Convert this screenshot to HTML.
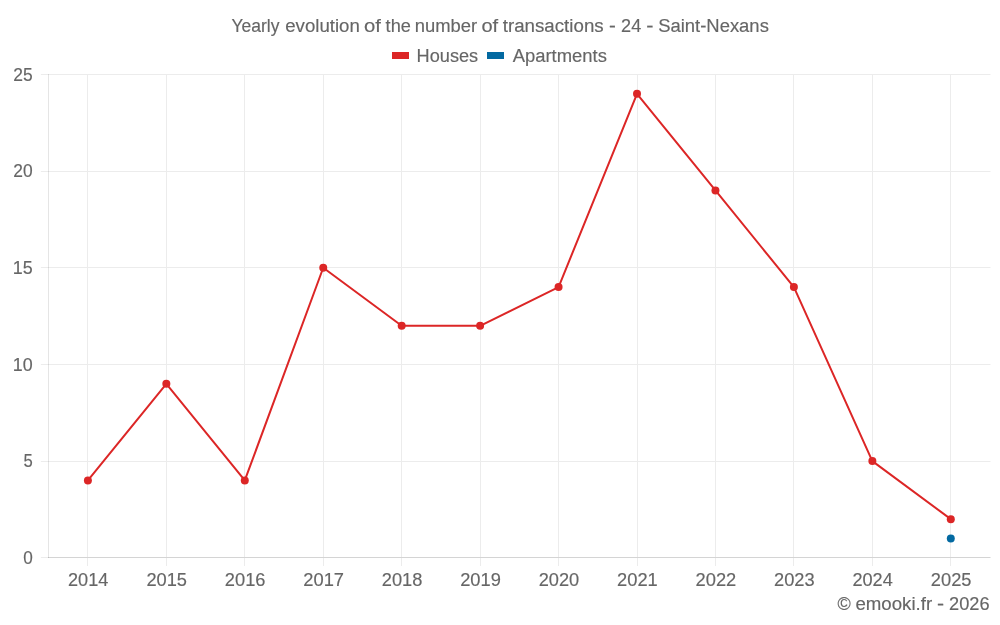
<!DOCTYPE html>
<html lang="en"><head><meta charset="utf-8">
<title>Yearly evolution of the number of transactions - 24 - Saint-Nexans</title>
<style>
html,body{margin:0;padding:0;background:#fff;}
body{width:1000px;height:625px;overflow:hidden;}
svg{display:block;will-change:transform;}
text{font-family:"Liberation Sans",sans-serif;font-size:18.0px;fill:#666;stroke:#666;stroke-width:.15px;}
.g{stroke:#ececec;stroke-width:1;shape-rendering:crispEdges;}
.gr{fill:#ececec;stroke:none;shape-rendering:auto;}.br{fill:#000;fill-opacity:.1;stroke:none;shape-rendering:auto;}
.b{stroke:#000;stroke-opacity:.1;stroke-width:1;shape-rendering:crispEdges;}
</style></head><body>
<svg width="1000" height="625" viewBox="0 0 1000 625">
<rect width="1000" height="625" fill="#fff"/>
<g class="g">
<rect class="gr" x="40.9" y="557" width="949.6" height="1"/>
<rect class="gr" x="40.9" y="461" width="949.6" height="1"/>
<rect class="gr" x="40.9" y="364" width="949.6" height="1"/>
<rect class="gr" x="40.9" y="267" width="949.6" height="1"/>
<rect class="gr" x="40.9" y="171" width="949.6" height="1"/>
<rect class="gr" x="40.9" y="74" width="949.6" height="1"/>
<line x1="87.5" x2="87.5" y1="74.0" y2="566"/>
<line x1="166.5" x2="166.5" y1="74.0" y2="566"/>
<line x1="244.5" x2="244.5" y1="74.0" y2="566"/>
<line x1="323.5" x2="323.5" y1="74.0" y2="566"/>
<line x1="401.5" x2="401.5" y1="74.0" y2="566"/>
<line x1="480.5" x2="480.5" y1="74.0" y2="566"/>
<line x1="558.5" x2="558.5" y1="74.0" y2="566"/>
<line x1="637.5" x2="637.5" y1="74.0" y2="566"/>
<line x1="715.5" x2="715.5" y1="74.0" y2="566"/>
<line x1="793.5" x2="793.5" y1="74.0" y2="566"/>
<line x1="872.5" x2="872.5" y1="74.0" y2="566"/>
<line x1="950.5" x2="950.5" y1="74.0" y2="566"/>
</g>
<g class="b">
<line x1="48.5" x2="48.5" y1="74.0" y2="558.0"/>
<rect class="br" x="48" y="557" width="942.5" height="1"/>
</g>
<text y="32"><tspan x="231.43" textLength="48.01" lengthAdjust="spacingAndGlyphs">Yearly</tspan> <tspan x="285.21" textLength="74.60" lengthAdjust="spacingAndGlyphs">evolution</tspan> <tspan x="364.05" textLength="16.92" lengthAdjust="spacingAndGlyphs">of</tspan> <tspan x="385.62" textLength="25.28" lengthAdjust="spacingAndGlyphs">the</tspan> <tspan x="414.78" textLength="62.43" lengthAdjust="spacingAndGlyphs">number</tspan> <tspan x="481.46" textLength="16.71" lengthAdjust="spacingAndGlyphs">of</tspan> <tspan x="502.72" textLength="100.96" lengthAdjust="spacingAndGlyphs">transactions</tspan> <tspan x="609.09" textLength="6.82" lengthAdjust="spacingAndGlyphs">-</tspan> <tspan x="621.09" textLength="20.14" lengthAdjust="spacingAndGlyphs">24</tspan> <tspan x="646.24" textLength="7.23" lengthAdjust="spacingAndGlyphs">-</tspan> <tspan x="658.16" textLength="110.70" lengthAdjust="spacingAndGlyphs">Saint-Nexans</tspan></text>
<rect x="392" y="52" width="17" height="7" fill="#dc2626"/>
<text y="62"><tspan x="416.61" textLength="61.54" lengthAdjust="spacingAndGlyphs">Houses</tspan></text>
<rect x="487" y="52" width="17" height="7" fill="#0369a1"/>
<text y="62"><tspan x="512.66" textLength="94.20" lengthAdjust="spacingAndGlyphs">Apartments</tspan></text>
<text y="564"><tspan x="23.13" textLength="9.54" lengthAdjust="spacingAndGlyphs">0</tspan></text>
<text y="467"><tspan x="23.43" textLength="9.27" lengthAdjust="spacingAndGlyphs">5</tspan></text>
<text y="371"><tspan x="12.84" textLength="19.86" lengthAdjust="spacingAndGlyphs">10</tspan></text>
<text y="274"><tspan x="12.84" textLength="19.92" lengthAdjust="spacingAndGlyphs">15</tspan></text>
<text y="177"><tspan x="13.32" textLength="19.35" lengthAdjust="spacingAndGlyphs">20</tspan></text>
<text y="81"><tspan x="13.32" textLength="19.41" lengthAdjust="spacingAndGlyphs">25</tspan></text>
<text y="586"><tspan x="67.99" textLength="40.34" lengthAdjust="spacingAndGlyphs">2014</tspan></text>
<text y="586"><tspan x="146.43" textLength="40.58" lengthAdjust="spacingAndGlyphs">2015</tspan></text>
<text y="586"><tspan x="224.87" textLength="40.62" lengthAdjust="spacingAndGlyphs">2016</tspan></text>
<text y="586"><tspan x="303.31" textLength="40.74" lengthAdjust="spacingAndGlyphs">2017</tspan></text>
<text y="586"><tspan x="381.76" textLength="40.61" lengthAdjust="spacingAndGlyphs">2018</tspan></text>
<text y="586"><tspan x="460.21" textLength="40.69" lengthAdjust="spacingAndGlyphs">2019</tspan></text>
<text y="586"><tspan x="538.65" textLength="40.53" lengthAdjust="spacingAndGlyphs">2020</tspan></text>
<text y="586"><tspan x="617.09" textLength="40.71" lengthAdjust="spacingAndGlyphs">2021</tspan></text>
<text y="586"><tspan x="695.54" textLength="40.74" lengthAdjust="spacingAndGlyphs">2022</tspan></text>
<text y="586"><tspan x="773.99" textLength="40.62" lengthAdjust="spacingAndGlyphs">2023</tspan></text>
<text y="586"><tspan x="852.44" textLength="40.34" lengthAdjust="spacingAndGlyphs">2024</tspan></text>
<text y="586"><tspan x="930.88" textLength="40.58" lengthAdjust="spacingAndGlyphs">2025</tspan></text>
<text y="610"><tspan x="837.53" textLength="13.25" lengthAdjust="spacingAndGlyphs">©</tspan> <tspan x="855.41" textLength="76.70" lengthAdjust="spacingAndGlyphs">emooki.fr</tspan> <tspan x="937.05" textLength="7.09" lengthAdjust="spacingAndGlyphs">-</tspan> <tspan x="949.08" textLength="40.52" lengthAdjust="spacingAndGlyphs">2026</tspan></text>
<polyline points="87.90,480.46 166.34,383.78 244.79,480.46 323.24,267.77 401.68,325.78 480.12,325.78 558.57,287.11 637.01,93.76 715.46,190.43 793.90,287.11 872.35,461.12 950.79,519.13" fill="none" stroke="#dc2626" stroke-width="2" stroke-linejoin="round" stroke-linecap="round"/>
<circle cx="87.90" cy="480.46" r="4" fill="#dc2626"/>
<circle cx="166.34" cy="383.78" r="4" fill="#dc2626"/>
<circle cx="244.79" cy="480.46" r="4" fill="#dc2626"/>
<circle cx="323.24" cy="267.77" r="4" fill="#dc2626"/>
<circle cx="401.68" cy="325.78" r="4" fill="#dc2626"/>
<circle cx="480.12" cy="325.78" r="4" fill="#dc2626"/>
<circle cx="558.57" cy="287.11" r="4" fill="#dc2626"/>
<circle cx="637.01" cy="93.76" r="4" fill="#dc2626"/>
<circle cx="715.46" cy="190.43" r="4" fill="#dc2626"/>
<circle cx="793.90" cy="287.11" r="4" fill="#dc2626"/>
<circle cx="872.35" cy="461.12" r="4" fill="#dc2626"/>
<circle cx="950.79" cy="519.13" r="4" fill="#dc2626"/>
<circle cx="950.79" cy="538.46" r="4" fill="#0369a1"/>
</svg>
</body></html>
